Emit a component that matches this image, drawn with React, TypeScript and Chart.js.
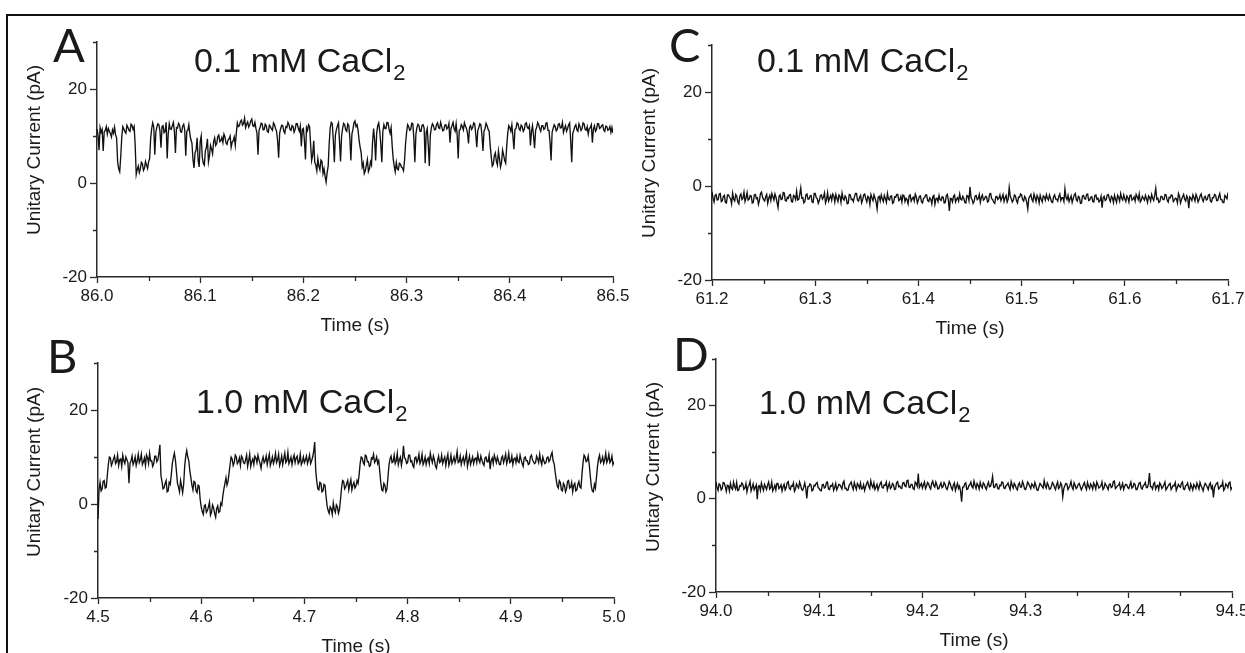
import React, { useEffect, useRef } from "react";
import { Chart, registerables } from "chart.js";

Chart.register(...registerables);

// ---------------- data ----------------
const SAMPLE_DT = 0.001; // s between samples
const WINDOW = 0.5; // s shown per panel

const A_START = 86.0;
const B_START = 4.5;
const C_START = 61.2;
const D_START = 94.0;

const A_X_LABELS = ["86.0", "86.1", "86.2", "86.3", "86.4", "86.5"];
const B_X_LABELS = ["4.5", "4.6", "4.7", "4.8", "4.9", "5.0"];
const C_X_LABELS = ["61.2", "61.3", "61.4", "61.5", "61.6", "61.7"];
const D_X_LABELS = ["94.0", "94.1", "94.2", "94.3", "94.4", "94.5"];

const Y_TICK_LABELS = [-20, 0, 20];
const Y_MIN = -20;
const Y_MAX = 30;
const Y_STEP = 10;
const X_STEP = 0.05;

const CONC_LOW = "0.1 mM CaCl";
const CONC_HIGH = "1.0 mM CaCl";
const CONC_SUB = "2";
const Y_TITLE = "Unitary Current (pA)";
const X_TITLE = "Time (s)";

// Panel A: 0.1 mM CaCl2, unitary current (pA), 1 ms samples
const A_CURRENT = [
  11.5, 10.2, 7.0, 11.8, 10.8, 11.4, 6.8, 10.9, 11.2, 12.0, 10.4, 11.6, 11.0, 10.5, 9.8, 11.3, 10.6, 11.9, 10.2, 9.6,
  4.5, 3.0, 2.4, 5.6, 9.8, 12.0, 11.5, 10.9, 10.6, 12.3, 11.8, 11.2, 11.0, 12.5, 12.2, 11.4, 12.0, 8.0, 1.8, 2.9,
  3.6, 2.2, 3.0, 4.4, 4.1, 2.7, 3.2, 4.6, 3.8, 3.1, 4.5, 5.2, 9.5, 11.6, 12.8, 11.9, 6.0, 10.8, 11.9, 12.6,
  12.4, 11.1, 7.5, 12.0, 12.2, 10.7, 11.0, 12.9, 5.2, 10.4, 12.6, 11.5, 11.4, 12.2, 12.9, 11.0, 6.4, 11.8, 11.7, 12.7,
  12.3, 10.9, 10.8, 12.1, 12.5, 11.3, 5.8, 11.0, 11.2, 12.4, 10.4, 9.2, 8.5, 5.0, 3.2, 6.4, 7.0, 9.6, 4.8, 3.4,
  8.8, 10.0, 5.5, 4.2, 3.8, 6.8, 7.6, 9.4, 4.5, 5.8, 8.0, 7.2, 6.2, 8.8, 9.6, 8.0, 8.4, 9.9, 10.2, 8.8,
  9.0, 9.7, 8.6, 10.4, 9.8, 8.5, 8.2, 9.2, 9.4, 10.0, 7.6, 8.7, 9.0, 9.8, 8.0, 10.6, 12.8, 12.0, 12.2, 13.1,
  13.4, 12.3, 12.6, 13.8, 11.8, 12.5, 13.0, 11.9, 12.4, 13.2, 13.6, 12.2, 12.0, 12.9, 11.6, 10.6, 6.0, 11.2, 11.8, 12.7,
  12.6, 11.3, 11.4, 12.5, 12.2, 11.0, 10.8, 12.3, 12.0, 11.5, 11.2, 12.8, 12.4, 11.6, 11.0, 9.0, 5.4, 10.6, 11.6, 12.3,
  12.2, 11.0, 10.6, 12.0, 11.8, 12.9, 12.4, 11.4, 11.2, 12.2, 12.0, 10.8, 11.4, 12.6, 12.6, 11.7, 11.0, 12.1, 7.8, 11.4,
  11.6, 9.0, 5.0, 11.8, 11.2, 12.4, 12.0, 8.2, 4.8, 6.0, 9.0, 4.4, 3.8, 2.6, 5.2, 3.6, 2.8, 4.9, 4.6, 2.0,
  3.0, 1.4, 0.2, 2.2, 3.6, 8.4, 11.8, 12.9, 12.6, 9.0, 4.4, 10.2, 11.4, 12.2, 12.8, 8.8, 4.6, 10.0, 11.6, 12.7,
  12.4, 11.3, 11.0, 12.6, 12.2, 9.6, 4.8, 10.4, 11.4, 12.8, 13.2, 12.0, 12.4, 11.2, 9.0, 7.6, 6.4, 3.4, 4.2, 2.0,
  2.6, 3.8, 5.0, 2.4, 3.0, 4.5, 3.8, 8.6, 11.6, 9.2, 4.8, 10.6, 12.2, 12.8, 11.0, 8.2, 4.4, 11.0, 12.4, 11.6,
  11.6, 12.9, 12.8, 11.5, 10.6, 11.8, 8.0, 5.2, 3.6, 2.4, 4.4, 3.0, 2.8, 4.2, 4.0, 3.4, 3.2, 2.6, 4.8, 8.4,
  10.8, 12.4, 12.0, 11.2, 11.4, 12.7, 12.6, 9.6, 4.4, 10.4, 11.8, 12.5, 12.2, 11.0, 11.0, 12.3, 12.4, 11.7, 4.2, 10.8,
  11.6, 8.0, 3.6, 10.2, 11.8, 12.6, 12.2, 11.3, 11.4, 12.4, 12.8, 11.8, 11.6, 12.9, 12.0, 11.1, 11.2, 12.3, 12.4, 11.5,
  11.8, 12.7, 8.6, 11.6, 12.2, 12.9, 11.6, 11.0, 12.6, 10.2, 5.2, 11.2, 11.4, 12.4, 12.0, 11.3, 12.8, 12.1, 11.6, 10.6,
  8.4, 11.8, 12.2, 11.4, 11.8, 12.8, 12.6, 10.4, 7.6, 11.2, 11.8, 12.6, 12.4, 10.2, 6.8, 11.0, 11.6, 12.7, 12.2, 11.4,
  11.0, 8.0, 5.6, 3.6, 4.0, 5.8, 6.4, 4.6, 3.8, 6.8, 5.2, 3.4, 4.4, 7.0, 6.0, 4.8, 4.2, 7.8, 10.6, 12.2,
  11.8, 11.0, 12.4, 10.0, 7.2, 11.4, 11.6, 12.8, 12.6, 11.5, 11.2, 12.3, 12.0, 11.0, 11.4, 12.6, 12.8, 11.8, 11.6, 12.2,
  8.0, 11.0, 12.2, 10.0, 7.4, 11.2, 11.8, 12.9, 12.4, 11.6, 11.0, 12.2, 12.2, 11.4, 11.6, 12.7, 12.8, 11.2, 11.2, 8.6,
  4.8, 10.8, 11.6, 12.4, 12.0, 11.1, 11.4, 12.5, 12.6, 11.7, 11.8, 12.9, 10.8, 11.6, 12.2, 11.0, 11.6, 12.4, 12.8, 9.0,
  4.4, 10.6, 11.2, 12.0, 12.4, 11.3, 11.0, 12.6, 12.0, 11.2, 11.6, 12.8, 12.6, 11.4, 11.2, 12.0, 10.4, 11.6, 11.8, 12.4,
  8.6, 11.4, 12.2, 11.0, 11.4, 12.6, 12.6, 11.6, 11.8, 12.2, 12.4, 11.3, 11.0, 12.1, 12.0, 11.2, 11.4, 12.0, 10.8, 11.8,
  10.6,
];

// Panel B: 1.0 mM CaCl2
const B_CURRENT = [
  -3.2, 3.0, 4.6, 2.8, 3.2, 4.8, 5.0, 3.4, 3.6, 6.0, 8.4, 10.0, 9.8, 8.2, 8.8, 9.6, 10.2, 8.6, 9.0, 10.4,
  8.2, 9.4, 9.6, 8.0, 10.4, 9.2, 8.6, 10.0, 9.4, 8.8, 4.4, 8.6, 9.2, 10.2, 8.4, 9.0, 10.0, 8.2, 9.2, 10.6,
  8.8, 9.4, 10.6, 8.4, 9.0, 9.8, 8.2, 10.4, 9.8, 8.6, 10.8, 9.2, 9.2, 8.0, 8.6, 10.2, 10.2, 9.0, 9.4, 10.8,
  12.6, 6.0, 4.8, 3.2, 3.4, 4.4, 5.0, 2.6, 2.8, 4.6, 4.2, 6.2, 8.6, 9.8, 10.8, 9.4, 7.0, 4.4, 3.6, 2.6,
  5.0, 3.8, 2.4, 4.2, 8.0, 10.2, 11.4, 10.0, 9.2, 7.0, 5.6, 4.0, 3.0, 4.8, 4.6, 2.8, 2.4, 4.0, 3.8, 1.0,
  -0.6, -1.6, -2.2, -0.4, -0.2, -1.8, -1.4, -0.6, 0.4, -2.4, -1.8, -0.2, -0.8, -2.0, -2.8, -1.0, -0.4, -1.8, -1.6, 0.2,
  -0.2, 1.8, 3.2, 4.4, 5.6, 4.0, 4.8, 6.6, 8.4, 10.0, 9.6, 8.2, 8.8, 10.4, 10.0, 8.6, 9.0, 9.8, 8.2, 10.2,
  9.8, 8.8, 8.6, 9.4, 10.4, 8.0, 9.2, 10.6, 8.0, 9.0, 9.6, 8.4, 10.2, 9.8, 8.8, 10.4, 9.4, 8.6, 7.6, 9.2,
  10.0, 8.8, 9.2, 10.2, 8.4, 9.6, 10.6, 8.2, 9.0, 10.0, 8.6, 9.4, 10.8, 8.8, 9.4, 10.6, 8.2, 9.0, 10.2, 8.4,
  9.6, 10.8, 8.8, 9.2, 11.0, 8.6, 9.2, 10.0, 8.4, 9.6, 10.4, 8.8, 9.8, 10.2, 8.6, 9.0, 10.6, 8.4, 9.0, 10.0,
  8.8, 9.4, 10.2, 8.6, 9.4, 10.4, 8.6, 9.2, 10.0, 11.2, 13.2, 7.0, 4.8, 3.2, 3.0, 4.6, 4.4, 2.6, 2.8, 4.2,
  4.0, 1.6, -0.4, -1.4, -2.0, -0.6, -1.0, -2.2, 0.2, -1.2, -1.8, -0.2, -0.6, -2.0, -1.2, 1.0, 3.4, 5.0, 4.8, 3.2,
  3.6, 4.4, 5.0, 3.0, 4.2, 5.2, 3.0, 4.0, 4.6, 3.4, 3.8, 5.0, 4.4, 6.2, 8.6, 10.0, 9.8, 8.8, 8.4, 10.4,
  10.2, 9.0, 9.0, 8.0, 8.2, 9.8, 9.6, 10.6, 8.8, 9.2, 10.0, 8.6, 9.2, 7.0, 4.6, 3.0, 2.8, 4.4, 4.0, 2.6,
  3.2, 5.8, 8.4, 9.6, 10.2, 8.8, 9.0, 10.4, 8.6, 9.2, 10.8, 8.4, 9.4, 10.0, 8.2, 9.6, 12.4, 9.8, 9.6, 8.6,
  8.8, 10.4, 10.4, 9.0, 9.2, 8.2, 7.8, 9.8, 10.0, 8.8, 9.4, 10.6, 8.6, 9.2, 10.6, 8.4, 9.0, 10.0, 8.4, 9.4,
  9.8, 8.6, 10.8, 9.6, 8.8, 10.2, 9.4, 8.0, 7.6, 9.2, 10.2, 8.8, 9.0, 10.4, 8.6, 9.4, 10.0, 8.2, 9.6, 10.6,
  8.2, 9.0, 10.4, 8.6, 9.2, 10.0, 8.8, 9.6, 11.2, 8.8, 9.0, 10.2, 8.4, 9.4, 10.0, 8.6, 9.6, 10.8, 8.0, 9.2,
  10.2, 8.4, 9.2, 10.0, 8.6, 9.6, 9.8, 8.8, 10.6, 9.4, 8.8, 10.2, 9.4, 8.6, 8.2, 9.8, 10.0, 9.0, 9.0, 10.4,
  7.4, 9.2, 9.8, 8.6, 10.4, 9.6, 8.8, 10.0, 9.2, 8.4, 8.4, 9.8, 10.2, 8.8, 9.6, 10.6, 8.6, 9.4, 10.8, 8.8,
  9.0, 10.2, 8.4, 9.6, 9.8, 8.8, 10.2, 9.0, 8.8, 10.4, 9.4, 8.6, 8.0, 9.8, 10.0, 9.2, 9.2, 8.4, 8.6, 10.0,
  10.4, 9.4, 9.0, 8.6, 8.8, 10.2, 9.6, 8.8, 10.6, 9.2, 8.4, 10.0, 9.2, 8.6, 8.8, 9.8, 10.0, 9.0, 9.4, 10.4,
  11.0, 9.2, 8.6, 6.8, 5.2, 3.8, 3.4, 5.0, 4.6, 3.0, 2.8, 4.4, 4.0, 2.6, 3.2, 4.8, 5.0, 3.4, 3.6, 4.6,
  2.6, 4.0, 4.4, 2.8, 3.0, 4.2, 4.8, 3.6, 3.4, 6.4, 8.8, 10.4, 10.0, 9.0, 9.2, 10.2, 8.4, 6.0, 3.8, 2.8,
  2.6, 4.2, 3.4, 5.6, 8.0, 9.6, 10.4, 8.8, 9.2, 10.0, 8.6, 9.4, 10.8, 8.8, 9.4, 10.6, 8.8, 9.2, 10.2, 8.4,
  9.0,
];

// Panel C: 0.1 mM CaCl2
const C_CURRENT = [
  -1.2, -2.6, -3.4, -2.0, -1.8, -3.0, -2.9, -1.7, -1.6, -3.3, -3.1, -2.2, -2.0, -3.5, -3.6, -1.9, -1.9, -2.4, -2.7, -3.8,
  -1.5, -2.8, -3.2, -1.8, -2.2, -3.4, -3.8, -2.1, -1.7, -2.9, -2.6, -1.3, -3.3, -2.5, -1.4, -3.0, -2.8, -2.0, -2.1, -3.6,
  -3.5, -1.9, -1.8, -2.7, -2.5, -3.9, -3.0, -1.6, -1.3, -2.4, -2.9, -3.2, -2.3, -1.8, -3.7, -2.6, -2.0, -3.1, -1.6, -2.3,
  -3.0, -1.7, -2.4, -3.5, -4.6, -2.2, -1.9, -2.9, -2.8, -1.4, -1.5, -3.1, -3.2, -2.4, -2.6, -1.9, -1.8, -3.3, -3.4, -2.0,
  -2.2, -2.9, -1.1, -3.0, -2.9, -1.8, -0.4, -2.6, -2.5, -3.6, -3.3, -1.9, -1.7, -2.8, -2.8, -2.1, -2.0, -3.4, -3.5, -1.6,
  -1.6, -2.5, -2.7, -3.7, -3.1, -2.0, -1.9, -2.8, -2.4, -1.5, -3.6, -2.9, -1.4, -3.2, -2.6, -2.0, -3.0, -1.7, -2.1, -3.4,
  -1.8, -2.6, -3.3, -1.9, -2.2, -3.5, -1.5, -2.7, -3.0, -2.1, -2.5, -3.8, -3.7, -1.8, -1.9, -2.9, -2.8, -3.3, -2.3, -1.6,
  -1.6, -3.0, -3.2, -2.4, -2.0, -3.6, -2.9, -1.9, -1.7, -2.7, -3.4, -2.2, -2.4, -3.9, -1.8, -2.5, -3.1, -1.9, -2.6, -3.4,
  -4.9, -2.4, -2.2, -3.2, -1.9, -2.7, -3.3, -2.0, -2.7, -3.5, -1.6, -2.8, -3.0, -2.2, -2.1, -3.7, -3.5, -2.3, -2.4, -1.8,
  -1.8, -3.1, -2.9, -2.2, -3.4, -1.9, -2.0, -3.3, -2.6, -2.9, -3.8, -2.1, -1.9, -3.2, -2.7, -2.4, -3.2, -1.7, -2.3, -3.6,
  -3.0, -2.2, -2.1, -3.4, -3.6, -2.6, -2.5, -1.9, -1.9, -3.1, -3.3, -2.5, -2.8, -3.8, -2.2, -2.0, -3.9, -2.7, -2.6, -3.3,
  -2.0, -2.9, -3.1, -2.3, -2.4, -3.6, -3.5, -2.1, -1.8, -3.0, -5.3, -2.6, -2.7, -3.4, -2.2, -1.9, -3.4, -2.8, -2.5, -3.2,
  -1.7, -2.8, -3.0, -2.2, -2.6, -3.5, -3.6, -2.0, -2.1, -3.1, -0.2, -2.4, -2.9, -3.7, -3.3, -2.1, -2.0, -2.9, -2.7, -1.8,
  -3.5, -2.4, -1.9, -3.0, -2.8, -2.2, -2.3, -3.4, -3.2, -1.7, -1.6, -2.7, -2.9, -3.5, -3.7, -2.3, -2.2, -2.9, -2.6, -1.9,
  -3.1, -2.5, -1.8, -3.3, -2.5, -2.0, -3.4, -2.8, -0.3, -2.2, -2.7, -3.4, -3.0, -1.9, -2.1, -3.1, -3.6, -2.4, -2.4, -1.7,
  -1.9, -2.9, -3.2, -2.2, -2.6, -3.5, -4.9, -2.6, -2.2, -1.8, -2.9, -3.3, -1.7, -2.5, -3.3, -2.0, -2.5, -3.6, -2.0, -2.8,
  -3.4, -2.1, -2.3, -3.0, -1.8, -2.6, -3.0, -1.9, -2.6, -3.4, -3.5, -2.3, -1.9, -2.8, -2.8, -3.2, -2.2, -1.7, -3.1, -2.5,
  -2.5, -3.3, -0.6, -2.4, -2.9, -2.0, -3.3, -2.7, -2.1, -3.5, -2.7, -1.9, -1.6, -2.9, -3.2, -2.2, -2.4, -3.7, -3.6, -2.1,
  -2.0, -2.7, -2.8, -1.8, -1.7, -3.1, -3.0, -2.4, -2.3, -3.3, -3.4, -2.0, -1.9, -2.8, -2.6, -3.4, -3.1, -2.2, -4.6, -2.5,
  -2.2, -3.1, -2.9, -1.9, -1.8, -2.7, -3.3, -2.2, -2.5, -3.5, -2.0, -2.8, -3.5, -2.0, -2.4, -3.2, -1.6, -2.6, -3.0, -1.9,
  -2.7, -3.3, -2.1, -2.5, -3.4, -2.0, -1.9, -3.0, -2.8, -2.3, -3.2, -1.8, -2.3, -2.9, -1.7, -3.4, -3.0, -2.2, -2.6, -3.0,
  -2.0, -2.7, -3.5, -2.1, -2.4, -3.2, -1.8, -2.6, -3.1, -1.9, -0.5, -2.8, -2.6, -3.5, -3.3, -2.2, -2.2, -2.9, -2.9, -1.8,
  -1.9, -3.0, -3.4, -2.4, -2.5, -1.9, -2.0, -3.3, -3.0, -2.6, -2.7, -3.6, -1.6, -2.2, -3.6, -2.9, -2.3, -1.8, -2.8, -3.2,
  -2.1, -2.6, -4.7, -2.3, -2.6, -3.1, -1.9, -2.5, -3.2, -1.8, -2.4, -3.4, -2.9, -2.1, -1.7, -2.8, -3.3, -2.4, -2.2, -3.0,
  -2.8, -1.9, -1.8, -3.2, -3.4, -2.5, -2.5, -1.8, -2.0, -3.1, -3.1, -2.3, -1.6, -2.9, -2.9, -3.5, -3.5, -2.0, -2.3, -2.7,
  -1.4,
];

// Panel D: 1.0 mM CaCl2
const D_CURRENT = [
  3.6, 2.4, 1.8, 3.2, 3.0, 1.9, 2.2, 3.5, 3.4, 2.6, 1.6, 2.9, 2.8, 1.7, 3.3, 2.3, 2.0, 3.6, 2.6, 2.1,
  3.5, 1.8, 1.9, 2.8, 2.7, 3.4, 3.1, 2.0, 2.3, 3.3, 1.5, 2.6, 2.9, 3.7, 1.7, 2.4, 3.2, 1.9, 2.4, 3.0,
  -0.1, 2.7, 2.8, 1.8, 3.4, 2.5, 1.8, 3.1, 2.6, 2.0, 3.0, 3.6, 2.1, 2.4, 3.6, 1.7, 2.2, 2.9, 1.9, 3.3,
  3.3, 2.2, 2.5, 3.0, 1.7, 2.6, 3.1, 1.9, 2.4, 3.5, 3.7, 2.3, 2.0, 2.8, 2.7, 3.4, 1.6, 2.1, 3.2, 2.7,
  2.3, 3.6, 2.9, 2.0, 1.8, 2.5, 3.4, 2.2, 0.1, 2.6, 2.6, 3.2, 3.0, 1.7, 1.9, 2.9, 2.8, 3.3, 3.5, 2.4,
  2.2, 1.8, 1.7, 3.0, 3.1, 2.3, 2.5, 3.5, 3.6, 2.1, 2.0, 2.8, 2.7, 3.2, 1.8, 2.4, 3.3, 1.9, 2.4, 3.1,
  3.0, 2.6, 2.1, 3.4, 3.8, 2.2, 2.3, 1.8, 1.9, 2.9, 3.2, 3.6, 2.6, 2.0, 3.5, 2.7, 2.0, 3.3, 2.9, 2.3,
  3.4, 2.1, 2.2, 3.0, 1.8, 2.6, 3.3, 3.7, 2.7, 2.2, 3.9, 2.9, 2.4, 3.4, 2.0, 2.5, 3.1, 1.9, 2.6, 3.2,
  3.6, 2.4, 2.3, 3.0, 2.9, 3.6, 1.9, 2.7, 3.4, 2.2, 2.5, 3.3, 3.0, 2.0, 2.1, 3.5, 3.7, 2.6, 2.8, 2.3,
  2.2, 3.4, 3.5, 2.8, 2.6, 3.9, 4.0, 2.5, 2.4, 3.1, 3.1, 2.2, 2.0, 3.6, 3.3, 2.7, 5.4, 2.4, 2.9, 3.3,
  2.3, 3.0, 3.6, 2.2, 2.7, 3.5, 3.2, 2.5, 2.1, 3.3, 3.8, 2.8, 2.5, 3.6, 3.0, 2.1, 2.2, 2.9, 3.4, 2.4,
  2.6, 3.5, 3.1, 2.3, 2.0, 2.8, 3.7, 3.2, 2.4, 1.9, 2.9, 3.4, 1.8, 2.6, 3.3, 2.2, 2.7, 1.6, -0.6, 2.5,
  2.5, 3.2, 3.4, 2.0, 2.1, 2.8, 3.0, 3.6, 2.6, 2.3, 3.8, 2.9, 2.2, 3.3, 2.9, 2.1, 3.5, 2.7, 2.3, 3.4,
  3.1, 2.4, 2.0, 3.0, 3.6, 2.6, 2.7, 3.5, 4.8, 2.5, 2.4, 3.1, 3.2, 2.2, 2.1, 2.9, 2.8, 3.6, 3.5, 2.3,
  2.2, 2.8, 3.0, 3.4, 2.6, 2.0, 3.7, 2.9, 2.3, 3.3, 2.9, 2.2, 1.9, 3.0, 3.4, 2.5, 2.5, 3.7, 3.1, 2.1,
  2.0, 2.7, 3.6, 3.2, 2.7, 2.2, 3.2, 2.9, 2.4, 3.5, 2.8, 1.9, 1.8, 2.6, 3.3, 3.0, 2.6, 2.3, 3.9, 2.8,
  2.3, 3.4, 2.9, 2.1, 2.1, 2.7, 3.5, 3.1, 2.5, 2.0, 3.0, 3.6, 2.2, 2.5, 3.4, 2.9, 0.4, 2.2, 2.8, 3.3,
  3.2, 2.0, 2.4, 2.9, 3.7, 2.5, 2.0, 3.4, 2.9, 2.2, 2.5, 3.1, 3.3, 2.6, 1.9, 2.4, 3.0, 3.5, 2.6, 2.0,
  3.5, 2.7, 2.2, 3.2, 2.8, 2.1, 3.4, 2.9, 2.1, 3.6, 3.1, 2.3, 2.5, 2.8, 3.6, 2.0, 2.3, 3.3, 2.9, 2.5,
  2.0, 3.1, 3.2, 2.4, 2.6, 3.7, 3.8, 2.2, 2.4, 2.8, 2.9, 3.4, 2.1, 2.6, 3.3, 2.0, 2.7, 3.1, 3.0, 2.4,
  2.2, 2.9, 3.6, 2.3, 2.5, 3.3, 3.1, 2.0, 2.0, 2.7, 3.4, 3.5, 2.3, 2.1, 2.8, 3.0, 3.5, 2.4, 2.4, 3.2,
  5.5, 2.6, 2.6, 2.1, 3.2, 3.5, 2.1, 2.7, 2.9, 2.0, 3.4, 3.0, 2.2, 2.5, 3.0, 3.6, 1.9, 2.3, 2.7, 3.1,
  3.3, 2.0, 2.4, 2.9, 2.8, 3.5, 1.8, 2.4, 3.1, 2.7, 2.5, 3.3, 3.6, 2.1, 2.0, 2.8, 2.9, 3.4, 2.3, 1.9,
  3.2, 2.6, 1.9, 3.1, 2.7, 2.2, 3.4, 2.8, 2.1, 3.5, 2.8, 2.3, 1.7, 2.7, 3.3, 3.0, 2.5, 2.0, 3.0, 3.4,
  2.2, 2.7, 0.3, 2.4, 2.9, 3.3, 3.5, 2.1, 2.3, 2.8, 2.7, 3.6, 1.8, 2.2, 3.2, 2.9, 2.4, 3.4, 3.6, 2.0,
  2.5,
];

// ---------------- styling / layout ----------------
const FONT = '"Liberation Sans", Arial, Helvetica, sans-serif';
const TICK_FONT = '"Liberation Sans Narrow", "Liberation Sans", Arial, sans-serif';
const LETTER_FONT = 'Lato, "Open Sans", sans-serif';
const INK = "#1a1a1a";
const AXIS = "#2a2a2a";
const TRACE = "#111111";
const TRANSPARENT = "rgba(0,0,0,0)";

const Y_AXIS_W = 40;
const X_AXIS_H = 60;
const LETTER_SIZE = 47;
const CONC_SIZE = 34;
const SUB_SIZE = 22;
const SUB_DROP = 8;
const TICK_FONT_SIZE = 17;
const TITLE_FONT_SIZE = 19;
const TRACE_WIDTH = 1.35;

type Box = { left: number; top: number; width: number; height: number };
type Plot = { left: number; right: number; top: number; bottom: number };
type PanelSpec = {
  letter: string;
  conc: string;
  values: number[];
  start: number;
  xLabels: string[];
  canvas: Box;
  plot: Plot;
  letterPos: { x: number; y: number };
  concPos: { x: number; y: number };
  yTitlePos: { x: number; y: number };
};

const PANELS: PanelSpec[] = [
  {
    letter: "A",
    conc: CONC_LOW,
    values: A_CURRENT,
    start: A_START,
    xLabels: A_X_LABELS,
    canvas: { left: 8, top: 17, width: 632, height: 330 },
    plot: { left: 97, right: 613, top: 42, bottom: 277 },
    letterPos: { x: 53, y: 62 },
    concPos: { x: 194, y: 72 },
    yTitlePos: { x: 35, y: 150 },
  },
  {
    letter: "B",
    conc: CONC_HIGH,
    values: B_CURRENT,
    start: B_START,
    xLabels: B_X_LABELS,
    canvas: { left: 8, top: 330, width: 632, height: 336 },
    plot: { left: 98, right: 614, top: 363, bottom: 598 },
    letterPos: { x: 47, y: 373 },
    concPos: { x: 196, y: 413 },
    yTitlePos: { x: 35, y: 472 },
  },
  {
    letter: "C",
    conc: CONC_LOW,
    values: C_CURRENT,
    start: C_START,
    xLabels: C_X_LABELS,
    canvas: { left: 625, top: 17, width: 640, height: 330 },
    plot: { left: 712, right: 1228, top: 45, bottom: 280 },
    letterPos: { x: 669, y: 62 },
    concPos: { x: 757, y: 72 },
    yTitlePos: { x: 650, y: 153 },
  },
  {
    letter: "D",
    conc: CONC_HIGH,
    values: D_CURRENT,
    start: D_START,
    xLabels: D_X_LABELS,
    canvas: { left: 625, top: 330, width: 640, height: 336 },
    plot: { left: 716, right: 1232, top: 359, bottom: 592 },
    letterPos: { x: 673, y: 371 },
    concPos: { x: 759, y: 414 },
    yTitlePos: { x: 654, y: 467 },
  },
];

// ---------------- plugins ----------------
const panelTextPlugin = {
  id: "panelText",
  afterDraw(chart: any, _args: any, opts: any) {
    const ctx = chart.ctx as CanvasRenderingContext2D;
    const ox = opts.originX;
    const oy = opts.originY;
    ctx.save();
    ctx.fillStyle = INK;
    ctx.textAlign = "left";
    ctx.textBaseline = "alphabetic";
    ctx.font = `${LETTER_SIZE}px ${LETTER_FONT}`;
    ctx.fillText(opts.letter, opts.letterX - ox, opts.letterY - oy);

    ctx.font = `${CONC_SIZE}px ${FONT}`;
    const cx = opts.concX - ox;
    const cy = opts.concY - oy;
    ctx.fillText(opts.conc, cx, cy);
    const w = ctx.measureText(opts.conc).width;
    ctx.font = `${SUB_SIZE}px ${FONT}`;
    ctx.fillText(CONC_SUB, cx + w + 1, cy + SUB_DROP);

    ctx.translate(opts.yTitleX - ox, opts.yTitleY - oy);
    ctx.rotate(-Math.PI / 2);
    ctx.textAlign = "center";
    ctx.textBaseline = "middle";
    ctx.font = `${TITLE_FONT_SIZE}px ${FONT}`;
    ctx.fillText(Y_TITLE, 0, 0);
    ctx.restore();
  },
};

const minorTickPlugin = {
  id: "minorTicks",
  afterDraw(chart: any) {
    const ctx = chart.ctx as CanvasRenderingContext2D;
    const xs = chart.scales.x;
    const ys = chart.scales.y;
    ctx.save();
    ctx.strokeStyle = AXIS;
    ctx.lineWidth = 1.3;
    ctx.beginPath();
    xs.ticks.forEach((t: any, i: number) => {
      if (i % 2 === 1) {
        const px = Math.round(xs.getPixelForValue(t.value)) + 0.5;
        ctx.moveTo(px, xs.top);
        ctx.lineTo(px, xs.top + 4);
      }
    });
    ys.ticks.forEach((t: any) => {
      if (!Y_TICK_LABELS.includes(Math.round(t.value))) {
        const py = Math.round(ys.getPixelForValue(t.value)) + 0.5;
        ctx.moveTo(ys.right - 4, py);
        ctx.lineTo(ys.right, py);
      }
    });
    ctx.stroke();
    ctx.restore();
  },
};

// ---------------- components ----------------
function Panel({ spec }: { spec: PanelSpec }) {
  const ref = useRef<HTMLCanvasElement | null>(null);

  useEffect(() => {
    const canvas = ref.current;
    if (!canvas) return;
    const { canvas: cb, plot } = spec;
    const padding = {
      left: plot.left - Y_AXIS_W - cb.left,
      top: plot.top - cb.top,
      right: cb.left + cb.width - plot.right,
      bottom: cb.top + cb.height - (plot.bottom + X_AXIS_H),
    };
    const points = spec.values.map((v, i) => ({ x: spec.start + i * SAMPLE_DT, y: v }));

    const chart = new Chart(canvas, {
      type: "line",
      data: {
        datasets: [
          {
            data: points,
            borderColor: TRACE,
            borderWidth: TRACE_WIDTH,
            pointRadius: 0,
            tension: 0,
            fill: false,
          },
        ],
      },
      options: {
        animation: false,
        responsive: false,
        devicePixelRatio: 1,
        events: [],
        layout: { padding, autoPadding: false },
        plugins: {
          legend: { display: false },
          tooltip: { enabled: false },
          title: { display: false },
          panelText: {
            originX: cb.left,
            originY: cb.top,
            letter: spec.letter,
            letterX: spec.letterPos.x,
            letterY: spec.letterPos.y,
            conc: spec.conc,
            concX: spec.concPos.x,
            concY: spec.concPos.y,
            yTitleX: spec.yTitlePos.x,
            yTitleY: spec.yTitlePos.y,
          },
        } as any,
        scales: {
          x: {
            type: "linear",
            position: "bottom",
            min: spec.start,
            max: spec.start + WINDOW,
            afterFit: (s: any) => {
              s.height = X_AXIS_H;
            },
            ticks: {
              stepSize: X_STEP,
              autoSkip: false,
              maxRotation: 0,
              minRotation: 0,
              padding: 3,
              color: INK,
              font: { family: TICK_FONT, size: TICK_FONT_SIZE },
              callback: (_v: any, index: number) =>
                index % 2 === 0 ? spec.xLabels[index / 2] ?? "" : "",
            },
            grid: {
              drawOnChartArea: false,
              drawTicks: true,
              tickLength: 6,
              tickWidth: 1.3,
              tickColor: (c: any) => (c.index % 2 === 0 ? AXIS : TRANSPARENT),
            },
            border: { display: true, color: AXIS, width: 1.5 },
            title: {
              display: true,
              text: X_TITLE,
              color: INK,
              font: { family: FONT, size: TITLE_FONT_SIZE, lineHeight: 1.2 },
              padding: { top: 0, bottom: 0 },
            },
          },
          y: {
            type: "linear",
            position: "left",
            min: Y_MIN,
            max: Y_MAX,
            afterFit: (s: any) => {
              s.width = Y_AXIS_W;
            },
            ticks: {
              stepSize: Y_STEP,
              autoSkip: false,
              padding: 3,
              color: INK,
              font: { family: TICK_FONT, size: TICK_FONT_SIZE },
              callback: (v: any) =>
                Y_TICK_LABELS.includes(Math.round(Number(v))) ? String(Math.round(Number(v))) : "",
            },
            grid: {
              drawOnChartArea: false,
              drawTicks: true,
              tickLength: 7,
              tickWidth: 1.3,
              tickColor: (c: any) =>
                c.tick && Y_TICK_LABELS.includes(Math.round(c.tick.value)) ? AXIS : TRANSPARENT,
            },
            border: { display: true, color: AXIS, width: 1.5 },
            title: { display: false },
          },
        },
      } as any,
      plugins: [panelTextPlugin, minorTickPlugin],
    });

    return () => chart.destroy();
  }, [spec]);

  const { canvas: cb } = spec;
  return (
    <canvas
      ref={ref}
      width={cb.width}
      height={cb.height}
      style={{
        position: "absolute",
        left: cb.left,
        top: cb.top,
        width: cb.width,
        height: cb.height,
      }}
    />
  );
}

export default function App() {
  return (
    <div
      style={{
        position: "absolute",
        left: 0,
        top: 0,
        width: 1245,
        height: 653,
        overflow: "hidden",
        background: "#ffffff",
      }}
    >
      <div
        style={{
          position: "absolute",
          left: 6,
          top: 14,
          width: 1300,
          height: 700,
          borderTop: "2px solid #111",
          borderLeft: "2px solid #111",
        }}
      />
      {PANELS.map((p) => (
        <Panel key={p.letter} spec={p} />
      ))}
    </div>
  );
}
